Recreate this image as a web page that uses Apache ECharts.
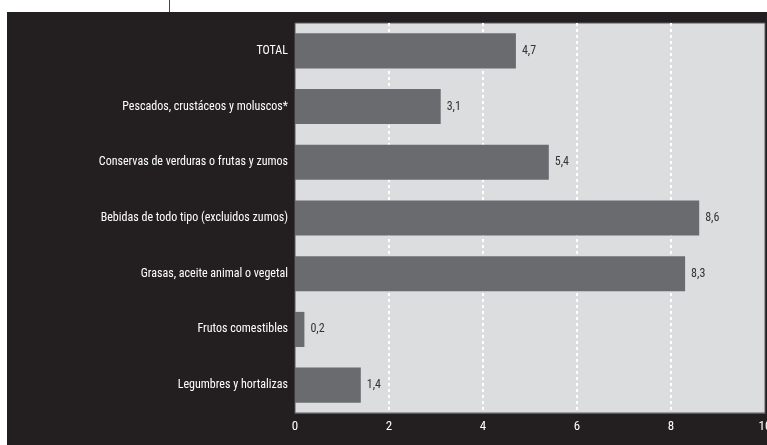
<!DOCTYPE html>
<html>
<head>
<meta charset="utf-8">
<script src="https://cdn.jsdelivr.net/npm/echarts@6/dist/echarts.min.js"></script>
<style>
  html, body { margin: 0; padding: 0; background: #fff; overflow: hidden; }
  .frame { position: absolute; left: 7px; top: 12px; width: 760px; height: 433px; background: #231f20; }
  .tick { position: absolute; left: 169px; top: 0; width: 1px; height: 12px; background: #444; }
  #chart { width: 760px; height: 433px; }
</style>
</head>
<body>
<div class="tick"></div>
<div class="frame"><div id="chart"></div></div>
<script>
const categories = [
  'TOTAL',
  'Pescados, crustáceos y moluscos*',
  'Conservas de verduras o frutas y zumos',
  'Bebidas de todo tipo (excluidos zumos)',
  'Grasas, aceite animal o vegetal',
  'Frutos comestibles',
  'Legumbres y hortalizas'
]
const values = [4.7, 3.1, 5.4, 8.6, 8.3, 0.2, 1.4]
const xTicks = [0, 2, 4, 6, 8, 10]

const font = '"Liberation Sans Narrow", "Roboto Condensed", "Liberation Sans", sans-serif'
const comma = v => String(v).replace('.', ',')

const chart = echarts.init(document.getElementById('chart'))
chart.setOption({
  animation: false,
  backgroundColor: '#231f20',
  grid: {
    left: 288, right: 2, top: 11, bottom: 32,
    outerBoundsMode: 'none',
    containLabel: false,
    show: true,
    backgroundColor: '#dcdddf',
    borderColor: '#5a5a5a',
    borderWidth: 1
  },
  xAxis: {
    type: 'value',
    min: xTicks[0],
    max: xTicks[xTicks.length - 1],
    interval: 2,
    axisLine: { show: true, lineStyle: { color: '#5a5a5a' } },
    axisTick: { show: false },
    axisLabel: { color: '#fff', fontFamily: font, fontSize: 13, margin: 7 },
    splitLine: {
      show: true,
      showMinLine: false,
      showMaxLine: false,
      lineStyle: { color: '#fff', width: 2, type: [3, 3] }
    }
  },
  yAxis: {
    type: 'category',
    inverse: true,
    data: categories,
    axisLine: { show: false },
    axisTick: { show: false },
    axisLabel: { color: '#fff', fontFamily: font, fontSize: 12, margin: 7 }
  },
  series: [{
    type: 'bar',
    data: values,
    barCategoryGap: '37%',
    itemStyle: { color: '#6a6b6e' },
    label: {
      show: true,
      position: 'right',
      distance: 6,
      color: '#333',
      fontFamily: font,
      fontSize: 12,
      formatter: p => comma(p.value)
    }
  }]
})
</script>
</body>
</html>
